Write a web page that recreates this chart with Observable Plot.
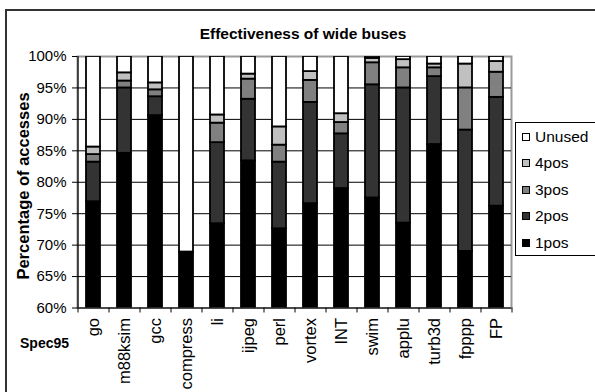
<!DOCTYPE html>
<html>
<head>
<meta charset="utf-8">
<script src="https://cdn.jsdelivr.net/npm/d3@7"></script>
<script src="https://cdn.jsdelivr.net/npm/@observablehq/plot@0.6"></script>
<style>
  html, body { margin: 0; padding: 0; background: #fff; }
  #wrap { position: relative; width: 595px; height: 392px; overflow: hidden; font-family: "Liberation Sans", Arial, sans-serif; }
  #border { position: absolute; left: 5px; top: 9px; width: 700px; height: 500px; border-top: 2px solid #333; border-left: 2px solid #333; }
  #chart { position: absolute; left: 0; top: 0; }
  .abs { position: absolute; white-space: nowrap; color: #000; }
  #title { left: 303px; top: 25px; transform: translateX(-50%); font-size: 15.5px; font-weight: bold; }
  #ytitle { left: 23px; top: 186px; transform: translate(-50%, -50%) rotate(-90deg); font-size: 16.5px; font-weight: bold; }
  #spec { left: 20px; top: 335px; font-size: 14px; font-weight: bold; }
  #legend { left: 515px; top: 122px; width: 100px; height: 132px; border: 1px solid #000; background: #fff; }
  .item { position: absolute; left: 6px; height: 18px; font-size: 15.5px; line-height: 18px; }
  .sw { display: inline-block; width: 6px; height: 6px; border: 1.5px solid #000; vertical-align: middle; margin-right: 5px; position: relative; top: -1px; }
</style>
</head>
<body>
<div id="wrap">
  <div id="border"></div>
  <div id="chart"></div>
  <div id="title" class="abs">Effectiveness of wide buses</div>
  <div id="ytitle" class="abs">Percentage of accesses</div>
  <div id="spec" class="abs">Spec95</div>
  <div id="legend" class="abs"></div>
</div>
<script>
const categories = ["go","m88ksim","gcc","compress","li","ijpeg","perl","vortex","INT","swim","applu","turb3d","fpppp","FP"];
const series = ["1pos","2pos","3pos","4pos","Unused"];
const colors = ["#000000","#333333","#808080","#c0c0c0","#ffffff"];
const pos1 = [76.9,84.6,90.6,68.9,73.4,83.4,72.6,76.6,79.0,77.5,73.5,86.0,69.0,76.2];
const pos2 = [6.3,10.4,3.0,0,12.9,9.8,10.6,16.1,8.7,18.0,21.5,10.8,19.3,17.3];
const pos3 = [1.2,1.1,1.1,0,3.1,3.2,2.7,3.5,1.8,3.5,3.2,1.4,6.7,4.0];
const pos4 = [1.2,1.3,1.1,0,1.3,0.8,2.9,1.4,1.4,0.7,1.3,0.6,3.8,1.7];
const yTicks = [60,65,70,75,80,85,90,95,100];

const unused = categories.map((_, i) => +(100 - pos1[i] - pos2[i] - pos3[i] - pos4[i]).toFixed(1));
const seriesValues = [pos1, pos2, pos3, pos4, unused];

const rows = [];
categories.forEach((c, i) => {
  series.forEach((s, j) => {
    const v = seriesValues[j][i];
    if (v > 0) rows.push({cat: c, series: s, value: v});
  });
});

const W = 595, H = 392;
const mL = 77, mR = 84, mT = 56, mB = 84.5;
const step = (W - mL - mR) / categories.length;

const chart = Plot.plot({
  width: W, height: H,
  marginLeft: mL, marginRight: mR, marginTop: mT, marginBottom: mB,
  style: {fontFamily: "'Liberation Sans', Arial, sans-serif", color: "#000", background: "transparent"},
  x: {type: "band", domain: categories, paddingInner: 0.56, paddingOuter: 0.28, axis: null},
  y: {domain: [60, 100], axis: null},
  color: {domain: series, range: colors},
  marks: [
    Plot.frame({stroke: "#999", strokeWidth: 2}),
    Plot.ruleY(yTicks.filter(t => t > 60 && t < 100), {y: d => d, stroke: "#000", strokeWidth: 1}),
    Plot.barY(rows, {x: "cat", y: "value", fill: "series", stroke: "#000", strokeWidth: 1.8, clip: true}),
    Plot.ruleY([60], {stroke: "#000", strokeWidth: 1.2}),
    Plot.ruleX(categories.slice(0, 1), {x: d => d, dx: -step / 2, y1: 60, y2: 100, stroke: "#000", strokeWidth: 1.2}),
    Plot.ruleX(categories.slice(0, 1), {x: d => d, dx: -step / 2, y1: 60, y2: 60, insetBottom: -5, stroke: "#000"}),
    Plot.ruleX(categories, {x: d => d, dx: step / 2, y1: 60, y2: 60, insetBottom: -5, stroke: "#000"}),
    Plot.axisY({ticks: yTicks, tickFormat: d => d + "%", tickSize: 5, tickPadding: 6, fontSize: 15, label: null, stroke: "#000"}),
    Plot.axisX({tickSize: 0, tickRotate: -90, tickPadding: 10, fontSize: 16.5, label: null})
  ]
});
document.getElementById("chart").appendChild(chart);

const legend = document.getElementById("legend");
const legendOrder = series.slice().reverse();
legendOrder.forEach((s, k) => {
  const it = document.createElement("div");
  it.className = "item";
  it.style.top = (5 + k * 26.4) + "px";
  const sw = document.createElement("span");
  sw.className = "sw";
  sw.style.background = colors[series.indexOf(s)];
  it.appendChild(sw);
  it.appendChild(document.createTextNode(s));
  legend.appendChild(it);
});
</script>
</body>
</html>
